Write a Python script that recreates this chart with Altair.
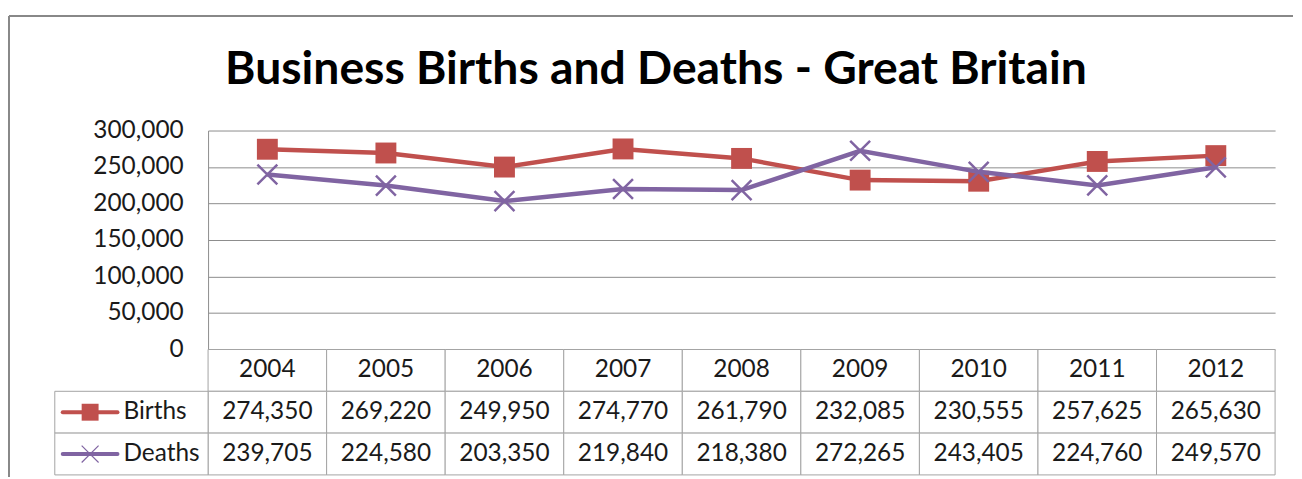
import altair as alt
import pandas as pd

# ---- data ----
years = ["2004", "2005", "2006", "2007", "2008", "2009", "2010", "2011", "2012"]
births = [274350, 269220, 249950, 274770, 261790, 232085, 230555, 257625, 265630]
deaths = [239705, 224580, 203350, 219840, 218380, 272265, 243405, 224760, 249570]
series = ["Births", "Deaths"]
colors = ["#C0504D", "#8064A2"]
y_ticks = [0, 50000, 100000, 150000, 200000, 250000, 300000]
title_text = "Business Births and Deaths - Great Britain"
table_rows = ["Year", "Births", "Deaths"]

FONT = "Lato"
GRID = "#8c8c8c"
TBL = "#a3a3a3"
TXT = "#1a1a1a"
X_PATH = "M-1,-1L1,1M-1,1L1,-1"

long = pd.DataFrame({
    "year": years * 2,
    "series": ["Births"] * len(years) + ["Deaths"] * len(years),
    "value": births + deaths,
})

x_line = alt.X("year:O", scale=alt.Scale(type="point", padding=0.5, domain=years), axis=None)
y_line = alt.Y(
    "value:Q",
    scale=alt.Scale(domain=[0, 300000], nice=False, zero=True),
    axis=alt.Axis(values=y_ticks, format=",.0f", title=None, ticks=False,
                  domainColor=GRID, gridColor=GRID, gridWidth=1,
                  labelFont=FONT, labelFontSize=24.5, labelColor=TXT, labelPadding=25),
)
color = alt.Color("series:N", scale=alt.Scale(domain=series, range=colors), legend=None)

base = alt.Chart(long).encode(x=x_line, y=y_line, color=color)
b_line = base.transform_filter("datum.series == 'Births'").mark_line(strokeWidth=4.5)
b_pts = base.transform_filter("datum.series == 'Births'").mark_point(
    shape="square", filled=True, size=441, opacity=1)
d_line = base.transform_filter("datum.series == 'Deaths'").mark_line(strokeWidth=4.5)
d_pts = base.transform_filter("datum.series == 'Deaths'").mark_point(
    shape=X_PATH, filled=False, size=400, strokeWidth=2.5, opacity=1)

one = pd.DataFrame({"t": [title_text]})
title = alt.Chart(one).mark_text(
    font=FONT, fontSize=46.5, fontWeight="bold", color="#000000",
    align="center", baseline="alphabetic"
).encode(x=alt.value(450), y=alt.value(-47), text="t:N")
border_top = alt.Chart(one).mark_rule(color="#888888", strokeWidth=2).encode(
    x=alt.value(-200), x2=alt.value(1090), y=alt.value(-115))
border_left = alt.Chart(one).mark_rule(color="#888888", strokeWidth=2).encode(
    x=alt.value(-200), y=alt.value(-115), y2=alt.value(348))

top = alt.layer(border_top, border_left, title, b_line, b_pts, d_line, d_pts).properties(
    width=1072, height=220)

# ---- data table ----
table = pd.DataFrame({
    "yr": years * 3,
    "row": ["Year"] * len(years) + ["Births"] * len(years) + ["Deaths"] * len(years),
    "label": years + [f"{v:,}" for v in births] + [f"{v:,}" for v in deaths],
})
xt = alt.X("yr:O", scale=alt.Scale(type="band", domain=years, paddingInner=0, paddingOuter=0), axis=None)
yt = alt.Y("row:N", scale=alt.Scale(type="band", domain=table_rows, paddingInner=0, paddingOuter=0), axis=None)

cells = alt.Chart(table).mark_rect(fill="white", stroke=TBL, strokeWidth=1).encode(x=xt, y=yt)
cell_text = alt.Chart(table).mark_text(font=FONT, fontSize=24.5, color=TXT).encode(
    x=xt, y=yt, text="label:N")

leg = pd.DataFrame({"row": series})
leg_color = alt.Color("row:N", scale=alt.Scale(domain=series, range=colors), legend=None)
leg_box = alt.Chart(leg).mark_rect(fill="white", stroke=TBL, strokeWidth=1).encode(
    x=alt.value(-154), x2=alt.value(0), y=yt)
leg_line = alt.Chart(leg).mark_rule(strokeWidth=4, strokeCap="round").encode(
    x=alt.value(-146), x2=alt.value(-91), y=yt, color=leg_color)
leg_sq = alt.Chart(leg).transform_filter("datum.row == 'Births'").mark_point(
    shape="square", filled=True, size=289, opacity=1).encode(
    x=alt.value(-118.5), y=yt, color=leg_color)
leg_x = alt.Chart(leg).transform_filter("datum.row == 'Deaths'").mark_point(
    shape=X_PATH, filled=False, size=289, strokeWidth=1.2, opacity=1).encode(
    x=alt.value(-118.5), y=yt, color=leg_color)
leg_text = alt.Chart(leg).mark_text(
    font=FONT, fontSize=24.5, color=TXT, align="left", baseline="middle").encode(
    x=alt.value(-85), y=yt, text="row:N")

bottom = alt.layer(cells, cell_text, leg_box, leg_line, leg_sq, leg_x, leg_text).properties(
    width=1072, height=126)

chart = alt.vconcat(top, bottom, spacing=0, bounds="flush").resolve_scale(
    x="independent", y="independent", color="independent"
).properties(
    padding={"left": 0, "top": 6, "right": 0, "bottom": 0},
    background="white",
).configure_view(stroke=None)

chart.save("out.html", embed_options={"renderer": "svg", "actions": False})
